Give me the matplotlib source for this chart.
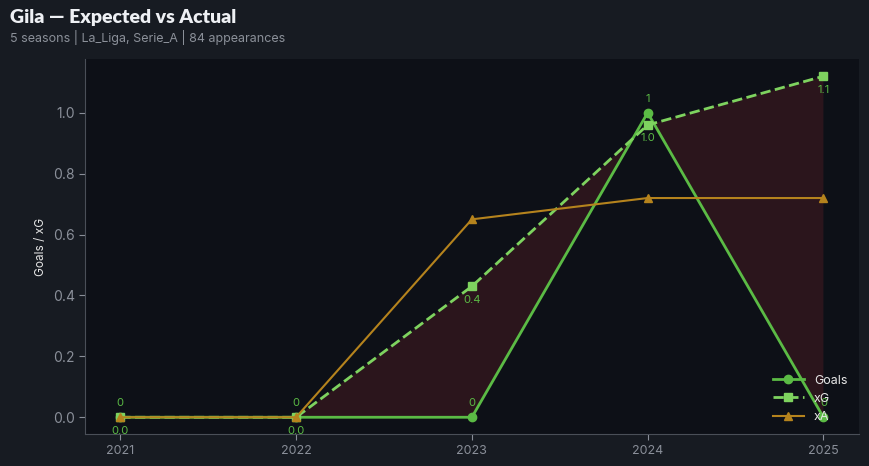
import matplotlib.pyplot as plt

plt.rcParams['font.family'] = ['Inter', 'DejaVu Sans']

# data
seasons = [2021, 2022, 2023, 2024, 2025]
goals = [0, 0, 0, 1, 0]
xg = [0.0, 0.0, 0.43, 0.96, 1.12]
xa = [0.0, 0.0, 0.65, 0.72, 0.72]

BG = '#171b22'
AX_BG = '#0d1017'
C_GOALS = '#5bbb45'
C_XG = '#7ed35f'
C_XA = '#b5831d'

fig = plt.figure(figsize=(8.69, 4.66), dpi=100, facecolor=BG)
ax = fig.add_axes([0.098, 0.068, 0.890, 0.805])
ax.set_facecolor(AX_BG)

# shaded gap where xG > goals
ax.fill_between(seasons, goals, xg, where=[g <= x for g, x in zip(goals, xg)],
                color='#d9343a', alpha=0.15, linewidth=0, interpolate=True)

ax.plot(seasons, goals, color=C_GOALS, lw=2, marker='o', ms=6, label='Goals')
ax.plot(seasons, xg, color=C_XG, lw=2, ls='--', marker='s', ms=6, label='xG')
ax.plot(seasons, xa, color=C_XA, lw=1.5, marker='^', ms=6, label='xA')

for s, g in zip(seasons, goals):
    ax.annotate(f"{g}", (s, g), xytext=(0, 6.5), textcoords='offset points',
                ha='center', va='bottom', fontsize=8, color=C_GOALS)
for s, v in zip(seasons, xg):
    ax.annotate(f"{v:.1f}", (s, v), xytext=(0, -6), textcoords='offset points',
                ha='center', va='top', fontsize=8, color=C_GOALS)

ax.set_xticks(seasons)
ax.set_xticklabels([str(s) for s in seasons])
ax.tick_params(colors='#8a8f99', labelsize=10, length=4)
ax.tick_params(axis='x', labelsize=9)
for side in ['top', 'right']:
    ax.spines[side].set_visible(False)
for side in ['left', 'bottom']:
    ax.spines[side].set_color('#4a4f58')
ax.set_ylabel('Goals / xG', color='#e6e6e6', fontsize=8.5)

leg = ax.legend(loc='lower right', frameon=False, fontsize=9,
                labelcolor='#e6e6e6', borderaxespad=0.5, handlelength=2.5)

fig.text(0.012, 0.962, 'Gila — Expected vs Actual', fontsize=14,
         fontweight='heavy', color='#eef0f4', family=['Lato', 'DejaVu Sans'],
         va='center')
fig.text(0.012, 0.92, '5 seasons | La_Liga, Serie_A | 84 appearances',
         fontsize=9, color='#8b9099', va='center')

fig.savefig('out.png', dpi=100, facecolor=BG)
